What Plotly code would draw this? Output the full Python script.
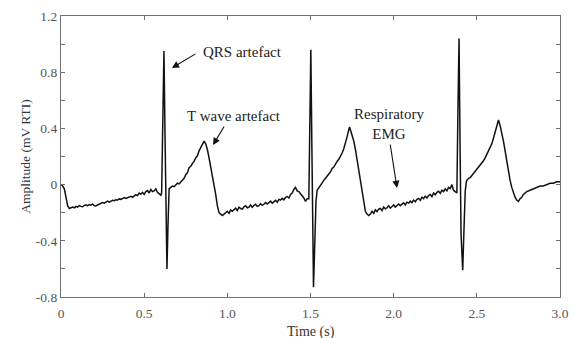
import plotly.graph_objects as go

# ---- data ----
seg1_t = [0.00,0.01,0.02,0.03,0.04,0.05,0.06,0.07,0.08,0.09,0.10,0.11,0.12,0.13,0.14,0.15,0.16,0.17,0.18,0.19,
          0.20,0.21,0.22,0.23,0.24,0.25,0.26,0.27,0.28,0.29,0.30,0.31,0.32,0.33,0.34,0.35,0.36,0.37,0.38,0.39,
          0.40,0.41,0.42,0.43,0.44,0.45,0.46,0.47,0.48,0.49,0.50,0.51,0.52,0.53,0.54,0.55,0.56,0.57,0.58,0.59,0.60]
seg1_v = [0.00,-0.01,-0.03,-0.10,-0.15,-0.17,-0.165,-0.16,-0.165,-0.155,
          -0.16,-0.15,-0.155,-0.158,-0.148,-0.145,-0.15,-0.142,-0.147,-0.138,
          -0.15,-0.152,-0.145,-0.14,-0.136,-0.128,-0.132,-0.126,-0.118,-0.125,
          -0.12,-0.112,-0.115,-0.108,-0.11,-0.102,-0.105,-0.1,-0.092,-0.098,
          -0.094,-0.088,-0.083,-0.09,-0.08,-0.072,-0.078,-0.06,-0.068,-0.055,
          -0.07,-0.05,-0.042,-0.06,-0.035,-0.05,-0.045,-0.03,-0.055,-0.065,-0.075]

qrs1_t = [0.605,0.612,0.619,0.626,0.632,0.637,0.643,0.650]
qrs1_v = [-0.06,0.50,0.95,0.30,-0.40,-0.60,-0.30,-0.03]

twave1_t = [0.66,0.67,0.68,0.69,0.70,0.71,0.72,0.73,0.74,0.75,0.76,0.77,0.78,0.79,0.80,0.81,0.82,0.83,0.84,0.85,
            0.86,0.87,0.88,0.89,0.90,0.91,0.92,0.93,0.94,0.95,0.96,0.97,0.98]
twave1_v = [-0.02,-0.01,-0.015,0.00,0.01,0.005,0.02,0.035,0.045,0.07,0.085,0.12,0.13,0.15,0.165,0.19,0.205,0.24,0.265,0.29,
            0.31,0.29,0.25,0.19,0.13,0.07,0.00,-0.07,-0.15,-0.20,-0.21,-0.22,-0.21]

seg2_t = [0.99,1.00,1.01,1.02,1.03,1.04,1.05,1.06,1.07,1.08,1.09,1.10,1.11,1.12,1.13,1.14,1.15,1.16,1.17,1.18,
          1.19,1.20,1.21,1.22,1.23,1.24,1.25,1.26,1.27,1.28,1.29,1.30,1.31,1.32,1.33,1.34,1.35,1.36,1.37,1.38,
          1.39,1.40,1.41,1.42,1.43,1.44,1.45,1.46,1.47,1.48]
seg2_v = [-0.20,-0.19,-0.205,-0.18,-0.19,-0.175,-0.168,-0.185,-0.16,-0.17,
          -0.175,-0.158,-0.15,-0.165,-0.16,-0.145,-0.162,-0.148,-0.14,-0.155,
          -0.15,-0.135,-0.148,-0.14,-0.128,-0.138,-0.13,-0.118,-0.132,-0.12,
          -0.112,-0.125,-0.105,-0.11,-0.098,-0.108,-0.09,-0.085,-0.095,-0.07,
          -0.06,-0.035,-0.02,-0.045,-0.05,-0.065,-0.08,-0.095,-0.12,-0.10]

qrs2_t = [1.490,1.496,1.502,1.508,1.513,1.518,1.525,1.533,1.540]
qrs2_v = [-0.10,0.45,0.96,0.30,-0.40,-0.73,-0.45,-0.12,-0.04]

twave2_t = [1.55,1.56,1.57,1.58,1.59,1.60,1.61,1.62,1.63,1.64,1.65,1.66,1.67,1.68,1.69,1.70,1.71,1.72,1.73,1.735,
            1.74,1.75,1.76,1.77,1.78,1.79,1.80,1.81,1.82,1.83,1.84,1.85,1.86]
twave2_v = [-0.02,0.00,0.015,0.03,0.045,0.065,0.075,0.09,0.115,0.125,0.15,0.165,0.18,0.2,0.225,0.255,0.29,0.34,0.39,0.41,
            0.39,0.35,0.31,0.25,0.18,0.10,0.03,-0.05,-0.13,-0.19,-0.21,-0.22,-0.21]

seg3_t = [1.87,1.88,1.89,1.90,1.91,1.92,1.93,1.94,1.95,1.96,1.97,1.98,1.99,2.00,2.01,2.02,2.03,2.04,2.05,2.06,
          2.07,2.08,2.09,2.10,2.11,2.12,2.13,2.14,2.15,2.16,2.17,2.18,2.19,2.20,2.21,2.22,2.23,2.24,2.25,2.26,
          2.27,2.28,2.29,2.30,2.31,2.32,2.33,2.34,2.35,2.36,2.37]
seg3_v = [-0.19,-0.205,-0.18,-0.192,-0.175,-0.17,-0.185,-0.16,-0.172,-0.165,
          -0.15,-0.168,-0.158,-0.145,-0.16,-0.152,-0.138,-0.15,-0.142,-0.13,
          -0.145,-0.125,-0.132,-0.118,-0.128,-0.11,-0.122,-0.105,-0.098,-0.112,
          -0.09,-0.1,-0.082,-0.095,-0.078,-0.07,-0.085,-0.06,-0.072,-0.055,
          -0.048,-0.062,-0.04,-0.05,-0.03,-0.045,-0.02,-0.028,0.0,-0.04,-0.05]

qrs3_t = [2.380,2.386,2.393,2.399,2.405,2.415,2.423,2.430,2.437]
qrs3_v = [-0.06,0.50,1.04,0.30,-0.35,-0.61,-0.30,-0.05,0.02]

twave3_t = [2.44,2.45,2.46,2.47,2.48,2.49,2.50,2.51,2.52,2.53,2.54,2.55,2.56,2.57,2.58,2.59,2.60,2.61,2.62,2.63,
            2.64,2.65,2.66,2.67,2.68,2.69,2.70,2.71,2.72,2.73,2.74,2.75,2.76,2.77,2.78,2.79,2.80,2.82,2.84,2.86,
            2.88,2.90,2.92,2.94,2.96,2.98,3.00]
twave3_v = [0.03,0.045,0.05,0.065,0.08,0.09,0.11,0.125,0.14,0.15,0.17,0.19,0.215,0.24,0.265,0.29,0.33,0.37,0.42,0.46,
            0.42,0.37,0.31,0.24,0.16,0.09,0.03,-0.02,-0.06,-0.09,-0.11,-0.12,-0.10,-0.09,-0.07,-0.06,-0.05,-0.04,-0.03,-0.02,
            -0.01,-0.01,0.00,0.01,0.01,0.02,0.02]

x_tickvals = [0, 0.5, 1.0, 1.5, 2.0, 2.5, 3.0]
x_ticktext = ["0", "0.5", "1.0", "1.5", "2.0", "2.5", "3.0"]
y_tickvals = [-0.8, -0.4, 0, 0.4, 0.8, 1.2]
y_ticktext = ["-0.8", "-0.4", "0", "0.4", "0.8", "1.2"]

time_s = seg1_t + qrs1_t + twave1_t + seg2_t + qrs2_t + twave2_t + seg3_t + qrs3_t + twave3_t
amp_mv = seg1_v + qrs1_v + twave1_v + seg2_v + qrs2_v + twave2_v + seg3_v + qrs3_v + twave3_v

SERIF = "Liberation Serif, Times New Roman, serif"
AXC = "#707070"

fig = go.Figure()
fig.add_trace(go.Scatter(x=time_s, y=amp_mv, mode="lines",
                         line=dict(color="#111111", width=1.5), showlegend=False))

# arrows (tip at x,y ; tail at ax,ay)
arrows = [
    (0.667, 0.830, 0.818, 0.937),
    (0.914, 0.282, 0.986, 0.424),
    (2.020, -0.024, 1.978, 0.296),
]
for x, y, ax, ay in arrows:
    fig.add_annotation(x=x, y=y, ax=ax, ay=ay, xref="x", yref="y", axref="x", ayref="y",
                       text="", showarrow=True, arrowhead=2, arrowsize=1.3, arrowwidth=1.1,
                       arrowcolor="#111111")

labels = [
    ("QRS artefact", 1.091, 0.944),
    ("T wave artefact", 1.040, 0.488),
    ("Respiratory<br>EMG", 1.972, 0.428),
]
for txt, x, y in labels:
    fig.add_annotation(x=x, y=y, xref="x", yref="y", text=txt, showarrow=False,
                       font=dict(family=SERIF, size=15, color="#222222"))

# x-axis title placed below tick labels
fig.add_annotation(x=0.5, y=0, xref="paper", yref="paper", yanchor="middle", yshift=-35,
                   text="Time (s)", showarrow=False,
                   font=dict(family=SERIF, size=14, color="#333333"))

fig.update_layout(
    width=574, height=338,
    margin=dict(l=61, r=14, t=16, b=41),
    paper_bgcolor="white", plot_bgcolor="white",
    font=dict(family=SERIF, size=13, color="#444444"),
)
fig.update_xaxes(range=[0, 3.0], tickvals=x_tickvals, ticktext=x_ticktext, automargin=False,
                 ticks="inside", ticklen=4, tickcolor=AXC, showgrid=False, zeroline=False,
                 showline=True, linecolor=AXC, linewidth=1.2, mirror="ticks",
                 tickfont=dict(size=13.5, color="#555555"), ticklabelstandoff=4)
fig.update_yaxes(range=[-0.8, 1.2], tickvals=y_tickvals, ticktext=y_ticktext, automargin=False,
                 ticks="inside", ticklen=4, tickcolor=AXC, showgrid=False, zeroline=False,
                 showline=True, linecolor=AXC, linewidth=1.2, mirror="ticks",
                 minor=dict(dtick=0.2, tick0=0, ticks="inside", ticklen=4, tickcolor=AXC, showgrid=False),
                 tickfont=dict(size=13.5, color="#555555"),
                 title=dict(text="Amplitude (mV RTI)", standoff=2, font=dict(size=13.5, color="#333333")))

fig.write_html("out.html", config={"displayModeBar": False},
               post_script="document.body.style.margin='0px';document.body.style.padding='0px';")
